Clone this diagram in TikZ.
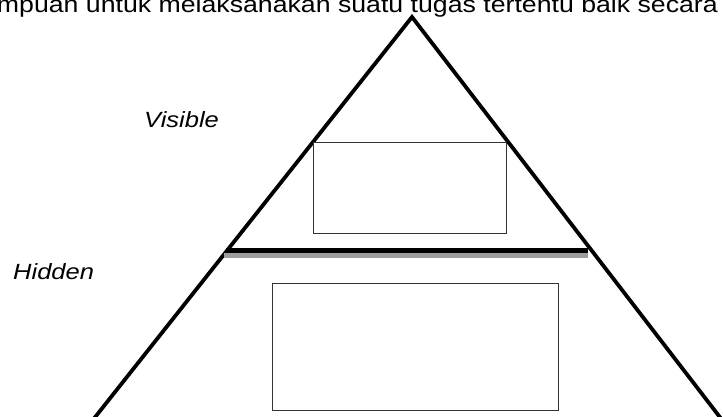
\documentclass[tikz,border=0pt]{standalone}
\usepackage{fontspec}
\setmainfont{Liberation Sans}
\usetikzlibrary{calc}
\tikzset{
  edgeline/.style={line width=3.8pt, line join=miter},
  barline/.style={line width=5pt},
  barshade/.style={line width=5pt, draw=black!38},
  innerbox/.style={draw=black!80, line width=1.1pt, fill=white, inner sep=0pt},
  label/.style={inner sep=0pt, font=\fontsize{22}{26}\selectfont\itshape},
  headtext/.style={inner sep=0pt, font=\fontsize{23}{27}\selectfont},
}
\newcommand{\wide}[1]{\scalebox{1.16}[1]{#1}}
\begin{document}
\begin{tikzpicture}[x=1pt, y=-1pt]
  \useasboundingbox (0,0) rectangle (723,416);
  \clip (0,0) rectangle (723,416);
  \fill[white] (0,0) rectangle (723,416);

  % running text line cut by the page edge
  \node[headtext, anchor=base east] (head) at (718,12)
    {\wide{mpuan untuk melaksanakan suatu tugas tertentu baik secara}};

  % pyramid
  \coordinate (apex) at (412,17);
  \coordinate (bl) at (96,416);
  \coordinate (br) at (719,416);
  \draw[edgeline] ($(apex)!1.1!(bl)$) -- (apex) -- ($(apex)!1.1!(br)$);

  % dividing waterline with its shade
  \coordinate (wl) at (224,255.5);
  \coordinate (wr) at (588,255.5);
  \draw[barshade] (wl) -- (wr);
  \coordinate (bl1) at (226,250.5);
  \coordinate (br1) at (588,250.5);
  \draw[barline] (bl1) -- (br1);

  % boxes above and below the line
  \node[innerbox, minimum width=193pt, minimum height=91pt, anchor=north west] (upper) at (313,142) {};
  \node[innerbox, minimum width=286pt, minimum height=127pt, anchor=north west] (lower) at (272,283) {};

  % labels
  \node[label, anchor=base west] (visible) at (144,127) {\wide{Visible}};
  \node[label, anchor=base west] (hidden) at (13,279) {\wide{Hidden}};
\end{tikzpicture}
\end{document}
